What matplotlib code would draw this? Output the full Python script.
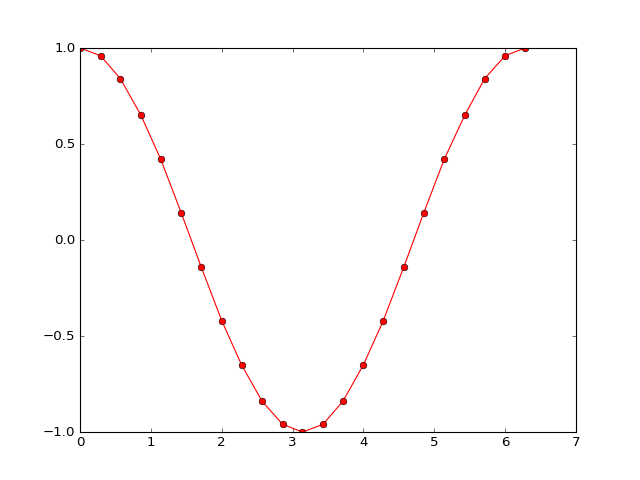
import matplotlib
matplotlib.use("Agg")
import matplotlib.pyplot as plt

# values
x = [0.00, 0.29, 0.57, 0.86, 1.14, 1.43, 1.71, 2.00, 2.28, 2.57, 2.86, 3.14,
     3.43, 3.71, 4.00, 4.28, 4.57, 4.85, 5.14, 5.43, 5.71, 6.00, 6.28]
y = [1.00, 0.96, 0.84, 0.65, 0.42, 0.14, -0.14, -0.42, -0.65, -0.84, -0.96, -1.00,
     -0.96, -0.84, -0.65, -0.42, -0.14, 0.14, 0.42, 0.65, 0.84, 0.96, 1.00]

plt.style.use("classic")
fig = plt.figure(figsize=(8, 6), dpi=80)
ax = fig.add_subplot(111)
ax.plot(x, y, "ro-", markersize=6, markeredgecolor="k", markeredgewidth=0.5, linewidth=1)
ax.set_xlim(0, 7)
ax.set_ylim(-1, 1)
ax.set_yticks([-1.0, -0.5, 0.0, 0.5, 1.0])
fig.savefig("out.png", dpi=80)
